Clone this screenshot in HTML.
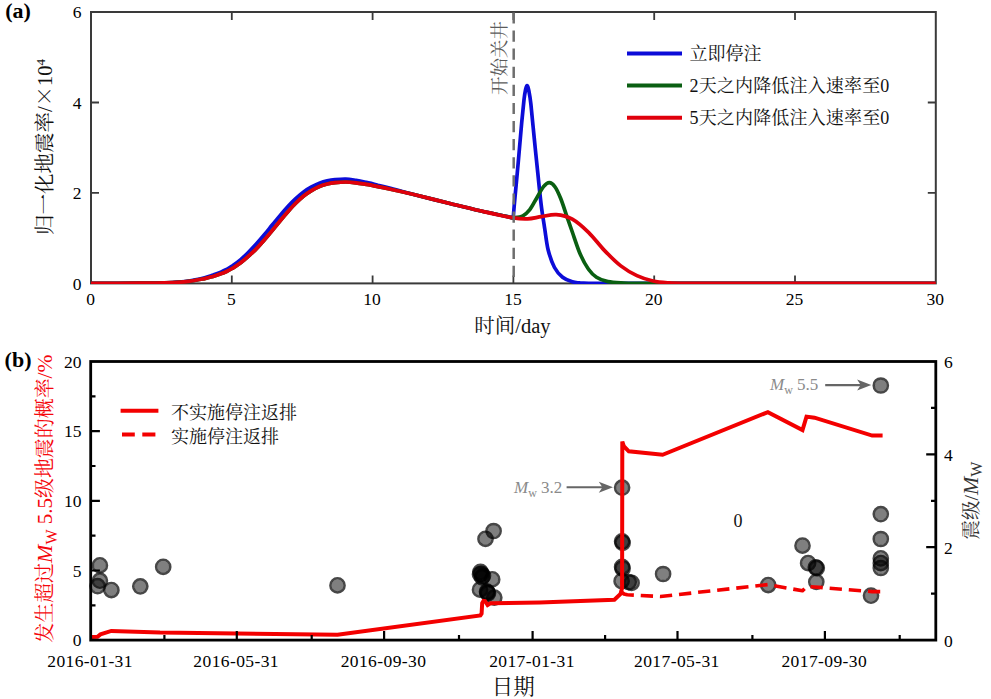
<!DOCTYPE html>
<html lang="zh"><head><meta charset="utf-8"><title>figure</title>
<style>
html,body{margin:0;padding:0;background:#fff;}
body{width:991px;height:699px;overflow:hidden;}
svg{display:block;}
text{font-family:'Liberation Serif','Noto Serif CJK SC',serif;}
.tk{font-size:17.5px;fill:#000;}
.dt{letter-spacing:0.4px;}
.lg{font-size:18px;fill:#111;}
.al{font-size:19.5px;}
</style></head><body>
<svg width="991" height="699" viewBox="0 0 991 699">
<rect width="991" height="699" fill="#fff"/>
<g id="panelA">
<rect x="91.0" y="12.0" width="844.8" height="271.4" fill="none" stroke="#3a3a3a" stroke-width="2"/>
<path d="M231.8 283.4 v-8 M231.8 12.0 v8 M372.6 283.4 v-8 M372.6 12.0 v8 M513.4 283.4 v-8 M513.4 12.0 v8 M654.2 283.4 v-8 M654.2 12.0 v8 M795.0 283.4 v-8 M795.0 12.0 v8 M91.0 192.9 h8 M935.8 192.9 h-8 M91.0 102.5 h8 M935.8 102.5 h-8" stroke="#3a3a3a" stroke-width="1.8" fill="none"/>
<clipPath id="clipA"><rect x="90.5" y="12.0" width="846.0" height="271.9"/></clipPath>
<g clip-path="url(#clipA)">
<path d="M91.0 283.4 C99.2 283.4 126.5 283.4 140.0 283.2 C153.6 283.0 164.2 282.8 172.3 282.5 C180.4 282.1 183.1 281.9 188.5 281.1 C193.9 280.3 200.5 278.7 204.6 277.7 C208.7 276.7 210.3 276.0 213.0 275.1 C215.7 274.1 218.6 273.0 220.8 272.1 C223.1 271.2 224.6 270.5 226.5 269.5 C228.4 268.4 230.1 267.4 232.5 265.8 C234.9 264.1 238.0 261.9 240.7 259.6 C243.4 257.3 245.9 254.8 248.5 252.2 C251.1 249.6 253.9 246.7 256.5 243.8 C259.1 240.9 261.7 237.9 264.3 234.8 C266.9 231.7 269.6 228.2 272.2 225.0 C274.8 221.8 277.4 218.7 280.0 215.6 C282.6 212.5 285.3 209.3 287.9 206.5 C290.5 203.7 293.1 201.1 295.7 198.7 C298.3 196.3 301.0 193.9 303.6 192.0 C306.2 190.1 308.9 188.4 311.5 187.0 C314.1 185.6 316.8 184.3 319.4 183.3 C322.0 182.3 324.6 181.5 327.2 180.9 C329.8 180.3 332.0 179.9 335.1 179.6 C338.2 179.3 342.2 178.9 345.7 179.0 C349.2 179.2 352.6 179.8 356.0 180.3 C359.4 180.9 362.6 181.6 366.3 182.4 C370.0 183.2 374.0 184.2 378.0 185.2 C382.0 186.1 384.4 186.7 390.5 188.3 C396.6 189.9 404.9 192.2 414.8 194.7 C424.7 197.2 439.0 200.8 449.9 203.5 C460.8 206.2 469.4 208.4 480.0 210.8 C490.6 213.2 507.7 216.7 513.2 217.9 L513.2 217.9 C513.5 214.6 514.0 207.6 514.9 198.2 C515.8 188.8 517.2 174.2 518.3 161.6 C519.4 149.0 520.8 132.9 521.7 122.6 C522.7 112.3 523.4 105.3 524.0 99.8 C524.6 94.3 525.1 91.9 525.6 89.5 C526.1 87.1 526.5 85.6 527.0 85.6 C527.5 85.6 528.0 86.4 528.6 89.5 C529.2 92.6 530.0 96.1 530.9 104.3 C531.8 112.5 533.1 127.2 534.3 138.7 C535.4 150.1 536.6 161.9 537.8 173.0 C538.9 184.1 540.1 195.8 541.2 205.0 C542.3 214.2 543.5 220.5 544.6 228.0 C545.8 235.5 546.5 243.2 548.1 249.8 C549.8 256.4 552.1 262.9 554.5 267.5 C556.9 272.1 559.6 274.8 562.6 277.2 C565.6 279.6 569.4 280.9 572.3 281.8 C575.2 282.8 577.3 282.6 580.0 282.9 C582.7 283.1 585.2 283.2 588.5 283.3 C591.8 283.4 598.1 283.4 600.0 283.4 L935.8 283.4" stroke="#0c0cd8" stroke-width="3.7" fill="none" stroke-linejoin="round"/>
<path d="M91.0 283.4 C99.2 283.4 126.5 283.3 140.0 283.2 C153.6 283.1 164.2 282.8 172.3 282.5 C180.4 282.2 183.1 282.0 188.5 281.4 C193.9 280.8 200.5 279.4 204.6 278.6 C208.7 277.8 210.3 277.2 213.0 276.4 C215.7 275.6 218.6 274.6 220.8 273.8 C223.1 273.0 224.6 272.4 226.5 271.5 C228.4 270.6 230.1 269.8 232.5 268.3 C234.9 266.9 238.0 264.8 240.7 262.8 C243.4 260.8 245.9 258.6 248.5 256.2 C251.1 253.8 253.9 251.3 256.5 248.6 C259.1 245.9 261.7 243.0 264.3 240.0 C266.9 237.0 269.6 233.8 272.2 230.6 C274.8 227.4 277.4 224.2 280.0 221.0 C282.6 217.8 285.3 214.6 287.9 211.7 C290.5 208.8 293.1 205.9 295.7 203.3 C298.3 200.7 301.0 198.1 303.6 196.0 C306.2 193.9 308.9 192.2 311.5 190.6 C314.1 189.0 316.8 187.6 319.4 186.5 C322.0 185.4 324.6 184.7 327.2 184.0 C329.8 183.3 332.0 182.9 335.1 182.6 C338.2 182.3 342.2 182.0 345.7 182.0 C349.2 182.0 352.6 182.4 356.0 182.8 C359.4 183.2 362.6 183.8 366.3 184.4 C370.0 185.0 374.0 185.8 378.0 186.6 C382.0 187.4 384.4 187.8 390.5 189.2 C396.6 190.5 404.9 192.3 414.8 194.7 C424.7 197.1 439.0 200.8 449.9 203.5 C460.8 206.2 469.4 208.4 480.0 210.8 C490.6 213.2 507.7 216.7 513.2 217.9 L513.2 217.9 C514.8 217.6 520.1 217.2 522.9 215.8 C525.7 214.4 527.5 212.5 529.8 209.6 C532.1 206.7 534.3 202.0 536.6 198.2 C538.9 194.4 541.4 189.3 543.5 186.7 C545.6 184.1 547.4 182.6 549.3 182.6 C551.2 182.6 553.0 184.0 554.9 186.7 C556.8 189.3 558.8 193.8 560.7 198.5 C562.6 203.2 564.5 209.4 566.4 215.0 C568.3 220.6 570.0 225.4 572.3 232.0 C574.6 238.6 577.7 248.4 580.4 254.6 C583.1 260.8 585.8 265.4 588.5 269.2 C591.2 273.0 593.3 275.1 596.5 277.2 C599.7 279.3 603.3 280.6 607.9 281.6 C612.5 282.6 618.6 282.7 624.0 283.0 C629.4 283.3 635.2 283.2 640.0 283.3 C644.8 283.4 650.8 283.4 653.0 283.4 L935.8 283.4" stroke="#0a5f12" stroke-width="3.7" fill="none" stroke-linejoin="round"/>
<path d="M91.0 283.4 C99.2 283.4 126.5 283.3 140.0 283.2 C153.6 283.1 164.2 282.8 172.3 282.5 C180.4 282.2 183.1 282.0 188.5 281.4 C193.9 280.8 200.5 279.4 204.6 278.6 C208.7 277.8 210.3 277.2 213.0 276.4 C215.7 275.6 218.6 274.6 220.8 273.8 C223.1 273.0 224.6 272.4 226.5 271.5 C228.4 270.6 230.1 269.8 232.5 268.3 C234.9 266.9 238.0 264.8 240.7 262.8 C243.4 260.8 245.9 258.6 248.5 256.2 C251.1 253.8 253.9 251.3 256.5 248.6 C259.1 245.9 261.7 243.0 264.3 240.0 C266.9 237.0 269.6 233.8 272.2 230.6 C274.8 227.4 277.4 224.2 280.0 221.0 C282.6 217.8 285.3 214.6 287.9 211.7 C290.5 208.8 293.1 205.9 295.7 203.3 C298.3 200.7 301.0 198.1 303.6 196.0 C306.2 193.9 308.9 192.2 311.5 190.6 C314.1 189.0 316.8 187.6 319.4 186.5 C322.0 185.4 324.6 184.7 327.2 184.0 C329.8 183.3 332.0 182.9 335.1 182.6 C338.2 182.3 342.2 182.0 345.7 182.0 C349.2 182.0 352.6 182.4 356.0 182.8 C359.4 183.2 362.6 183.8 366.3 184.4 C370.0 185.0 374.0 185.8 378.0 186.6 C382.0 187.4 384.4 187.8 390.5 189.2 C396.6 190.5 404.9 192.3 414.8 194.7 C424.7 197.1 439.0 200.8 449.9 203.5 C460.8 206.2 469.4 208.4 480.0 210.8 C490.6 213.2 505.3 216.6 513.2 217.9 C521.1 219.2 522.8 219.1 527.5 218.9 C532.2 218.7 536.6 217.4 541.4 216.7 C546.2 216.0 551.1 214.2 556.2 214.6 C561.4 215.0 566.9 216.1 572.3 219.1 C577.7 222.1 583.1 227.1 588.5 232.3 C593.9 237.6 599.2 245.0 604.6 250.6 C610.0 256.2 615.4 261.7 620.8 265.9 C626.2 270.1 631.5 273.1 636.9 275.6 C642.3 278.1 647.7 279.8 653.1 281.0 C658.5 282.2 663.9 282.5 669.2 282.9 C674.5 283.3 679.9 283.2 685.0 283.3 C690.1 283.4 697.5 283.4 700.0 283.4 L935.8 283.4" stroke="#e0000c" stroke-width="3.7" fill="none" stroke-linejoin="round"/>
</g>
<path d="M513.7 12.0 V283.4" stroke="#6e6e6e" stroke-width="2.5" stroke-dasharray="11.2 6.9" stroke-dashoffset="-0.4" fill="none"/>
<text class="tk" x="90.5" y="305.4" text-anchor="middle">0</text>
<text class="tk" x="231.3" y="305.4" text-anchor="middle">5</text>
<text class="tk" x="372.1" y="305.4" text-anchor="middle">10</text>
<text class="tk" x="512.9" y="305.4" text-anchor="middle">15</text>
<text class="tk" x="653.7" y="305.4" text-anchor="middle">20</text>
<text class="tk" x="794.5" y="305.4" text-anchor="middle">25</text>
<text class="tk" x="935.3" y="305.4" text-anchor="middle">30</text>
<text class="tk" x="81.5" y="289.6" text-anchor="end">0</text>
<text class="tk" x="81.5" y="199.1" text-anchor="end">2</text>
<text class="tk" x="81.5" y="108.7" text-anchor="end">4</text>
<text class="tk" x="81.5" y="18.2" text-anchor="end">6</text>
<text x="512.4" y="333" text-anchor="middle" fill="#111" font-size="20.5">时间/day</text>
<text transform="translate(52,147) rotate(-90)" text-anchor="middle" fill="#111" font-size="20.5">归一化地震率/<tspan font-family="'Noto Serif CJK SC',serif">×</tspan>10<tspan font-size="13" dy="-7.5">4</tspan></text>
<text transform="translate(506.3,58) rotate(-90)" text-anchor="middle" font-size="18.5" fill="#5c5c5c">开始关井</text>
<text transform="translate(5.2,17.6) scale(1.1,1)" font-size="20" font-weight="bold" fill="#000">(a)</text>
<path d="M627 53.4 H682" stroke="#0c0cd8" stroke-width="4" fill="none"/>
<text class="lg" x="689.5" y="59.6">立即停注</text>
<path d="M627 85.5 H682" stroke="#0a5f12" stroke-width="4" fill="none"/>
<text class="lg" x="689.5" y="91.7" letter-spacing="0.17">2天之内降低注入速率至0</text>
<path d="M627 117.8 H682" stroke="#e0000c" stroke-width="4" fill="none"/>
<text class="lg" x="689.5" y="124.0" letter-spacing="0.17">5天之内降低注入速率至0</text>
</g>
<g id="panelB">
<circle cx="99.9" cy="565.4" r="6.0" fill="#000" fill-opacity="0.5"/><circle cx="99.9" cy="565.4" r="7.1" fill="none" stroke="#000" stroke-opacity="0.72" stroke-width="2.5"/>
<circle cx="99.9" cy="580.6" r="6.0" fill="#000" fill-opacity="0.5"/><circle cx="99.9" cy="580.6" r="7.1" fill="none" stroke="#000" stroke-opacity="0.72" stroke-width="2.5"/>
<circle cx="97.6" cy="586.1" r="6.0" fill="#000" fill-opacity="0.5"/><circle cx="97.6" cy="586.1" r="7.1" fill="none" stroke="#000" stroke-opacity="0.72" stroke-width="2.5"/>
<circle cx="111.4" cy="590.2" r="6.0" fill="#000" fill-opacity="0.5"/><circle cx="111.4" cy="590.2" r="7.1" fill="none" stroke="#000" stroke-opacity="0.72" stroke-width="2.5"/>
<circle cx="140.3" cy="586.3" r="6.0" fill="#000" fill-opacity="0.5"/><circle cx="140.3" cy="586.3" r="7.1" fill="none" stroke="#000" stroke-opacity="0.72" stroke-width="2.5"/>
<circle cx="163.2" cy="566.9" r="6.0" fill="#000" fill-opacity="0.5"/><circle cx="163.2" cy="566.9" r="7.1" fill="none" stroke="#000" stroke-opacity="0.72" stroke-width="2.5"/>
<circle cx="337.5" cy="585.4" r="6.0" fill="#000" fill-opacity="0.5"/><circle cx="337.5" cy="585.4" r="7.1" fill="none" stroke="#000" stroke-opacity="0.72" stroke-width="2.5"/>
<circle cx="493.6" cy="531.0" r="6.0" fill="#000" fill-opacity="0.5"/><circle cx="493.6" cy="531.0" r="7.1" fill="none" stroke="#000" stroke-opacity="0.72" stroke-width="2.5"/>
<circle cx="485.5" cy="538.9" r="6.0" fill="#000" fill-opacity="0.5"/><circle cx="485.5" cy="538.9" r="7.1" fill="none" stroke="#000" stroke-opacity="0.72" stroke-width="2.5"/>
<circle cx="480.5" cy="571.8" r="6.0" fill="#000" fill-opacity="0.5"/><circle cx="480.5" cy="571.8" r="7.1" fill="none" stroke="#000" stroke-opacity="0.72" stroke-width="2.5"/>
<circle cx="481.5" cy="573.8" r="6.0" fill="#000" fill-opacity="0.5"/><circle cx="481.5" cy="573.8" r="7.1" fill="none" stroke="#000" stroke-opacity="0.72" stroke-width="2.5"/>
<circle cx="483.0" cy="575.8" r="6.0" fill="#000" fill-opacity="0.5"/><circle cx="483.0" cy="575.8" r="7.1" fill="none" stroke="#000" stroke-opacity="0.72" stroke-width="2.5"/>
<circle cx="482.0" cy="577.3" r="6.0" fill="#000" fill-opacity="0.5"/><circle cx="482.0" cy="577.3" r="7.1" fill="none" stroke="#000" stroke-opacity="0.72" stroke-width="2.5"/>
<circle cx="480.0" cy="574.3" r="6.0" fill="#000" fill-opacity="0.5"/><circle cx="480.0" cy="574.3" r="7.1" fill="none" stroke="#000" stroke-opacity="0.72" stroke-width="2.5"/>
<circle cx="492.2" cy="579.4" r="6.0" fill="#000" fill-opacity="0.5"/><circle cx="492.2" cy="579.4" r="7.1" fill="none" stroke="#000" stroke-opacity="0.72" stroke-width="2.5"/>
<circle cx="480.0" cy="589.7" r="6.0" fill="#000" fill-opacity="0.5"/><circle cx="480.0" cy="589.7" r="7.1" fill="none" stroke="#000" stroke-opacity="0.72" stroke-width="2.5"/>
<circle cx="487.0" cy="591.6" r="6.0" fill="#000" fill-opacity="0.5"/><circle cx="487.0" cy="591.6" r="7.1" fill="none" stroke="#000" stroke-opacity="0.72" stroke-width="2.5"/>
<circle cx="488.0" cy="593.3" r="6.0" fill="#000" fill-opacity="0.5"/><circle cx="488.0" cy="593.3" r="7.1" fill="none" stroke="#000" stroke-opacity="0.72" stroke-width="2.5"/>
<circle cx="487.4" cy="592.5" r="6.0" fill="#000" fill-opacity="0.5"/><circle cx="487.4" cy="592.5" r="7.1" fill="none" stroke="#000" stroke-opacity="0.72" stroke-width="2.5"/>
<circle cx="494.3" cy="597.6" r="6.0" fill="#000" fill-opacity="0.5"/><circle cx="494.3" cy="597.6" r="7.1" fill="none" stroke="#000" stroke-opacity="0.72" stroke-width="2.5"/>
<circle cx="622.1" cy="487.6" r="6.0" fill="#000" fill-opacity="0.5"/><circle cx="622.1" cy="487.6" r="7.1" fill="none" stroke="#000" stroke-opacity="0.72" stroke-width="2.5"/>
<circle cx="622.1" cy="541.3" r="6.0" fill="#000" fill-opacity="0.5"/><circle cx="622.1" cy="541.3" r="7.1" fill="none" stroke="#000" stroke-opacity="0.72" stroke-width="2.5"/>
<circle cx="622.6" cy="542.9" r="6.0" fill="#000" fill-opacity="0.5"/><circle cx="622.6" cy="542.9" r="7.1" fill="none" stroke="#000" stroke-opacity="0.72" stroke-width="2.5"/>
<circle cx="622.1" cy="566.9" r="6.0" fill="#000" fill-opacity="0.5"/><circle cx="622.1" cy="566.9" r="7.1" fill="none" stroke="#000" stroke-opacity="0.72" stroke-width="2.5"/>
<circle cx="622.6" cy="568.5" r="6.0" fill="#000" fill-opacity="0.5"/><circle cx="622.6" cy="568.5" r="7.1" fill="none" stroke="#000" stroke-opacity="0.72" stroke-width="2.5"/>
<circle cx="621.6" cy="581.2" r="6.0" fill="#000" fill-opacity="0.5"/><circle cx="621.6" cy="581.2" r="7.1" fill="none" stroke="#000" stroke-opacity="0.72" stroke-width="2.5"/>
<circle cx="628.7" cy="582.1" r="6.0" fill="#000" fill-opacity="0.5"/><circle cx="628.7" cy="582.1" r="7.1" fill="none" stroke="#000" stroke-opacity="0.72" stroke-width="2.5"/>
<circle cx="631.6" cy="582.9" r="6.0" fill="#000" fill-opacity="0.5"/><circle cx="631.6" cy="582.9" r="7.1" fill="none" stroke="#000" stroke-opacity="0.72" stroke-width="2.5"/>
<circle cx="663.1" cy="574.0" r="6.0" fill="#000" fill-opacity="0.5"/><circle cx="663.1" cy="574.0" r="7.1" fill="none" stroke="#000" stroke-opacity="0.72" stroke-width="2.5"/>
<circle cx="768.2" cy="585.2" r="6.0" fill="#000" fill-opacity="0.5"/><circle cx="768.2" cy="585.2" r="7.1" fill="none" stroke="#000" stroke-opacity="0.72" stroke-width="2.5"/>
<circle cx="802.5" cy="545.7" r="6.0" fill="#000" fill-opacity="0.5"/><circle cx="802.5" cy="545.7" r="7.1" fill="none" stroke="#000" stroke-opacity="0.72" stroke-width="2.5"/>
<circle cx="808.1" cy="563.2" r="6.0" fill="#000" fill-opacity="0.5"/><circle cx="808.1" cy="563.2" r="7.1" fill="none" stroke="#000" stroke-opacity="0.72" stroke-width="2.5"/>
<circle cx="815.8" cy="567.3" r="6.0" fill="#000" fill-opacity="0.5"/><circle cx="815.8" cy="567.3" r="7.1" fill="none" stroke="#000" stroke-opacity="0.72" stroke-width="2.5"/>
<circle cx="816.8" cy="568.1" r="6.0" fill="#000" fill-opacity="0.5"/><circle cx="816.8" cy="568.1" r="7.1" fill="none" stroke="#000" stroke-opacity="0.72" stroke-width="2.5"/>
<circle cx="816.3" cy="581.8" r="6.0" fill="#000" fill-opacity="0.5"/><circle cx="816.3" cy="581.8" r="7.1" fill="none" stroke="#000" stroke-opacity="0.72" stroke-width="2.5"/>
<circle cx="880.8" cy="385.5" r="6.0" fill="#000" fill-opacity="0.5"/><circle cx="880.8" cy="385.5" r="7.1" fill="none" stroke="#000" stroke-opacity="0.72" stroke-width="2.5"/>
<circle cx="880.8" cy="514.1" r="6.0" fill="#000" fill-opacity="0.5"/><circle cx="880.8" cy="514.1" r="7.1" fill="none" stroke="#000" stroke-opacity="0.72" stroke-width="2.5"/>
<circle cx="880.8" cy="539.0" r="6.0" fill="#000" fill-opacity="0.5"/><circle cx="880.8" cy="539.0" r="7.1" fill="none" stroke="#000" stroke-opacity="0.72" stroke-width="2.5"/>
<circle cx="880.8" cy="558.4" r="6.0" fill="#000" fill-opacity="0.5"/><circle cx="880.8" cy="558.4" r="7.1" fill="none" stroke="#000" stroke-opacity="0.72" stroke-width="2.5"/>
<circle cx="880.8" cy="563.2" r="6.0" fill="#000" fill-opacity="0.5"/><circle cx="880.8" cy="563.2" r="7.1" fill="none" stroke="#000" stroke-opacity="0.72" stroke-width="2.5"/>
<circle cx="880.8" cy="568.0" r="6.0" fill="#000" fill-opacity="0.5"/><circle cx="880.8" cy="568.0" r="7.1" fill="none" stroke="#000" stroke-opacity="0.72" stroke-width="2.5"/>
<circle cx="871.0" cy="595.6" r="6.0" fill="#000" fill-opacity="0.5"/><circle cx="871.0" cy="595.6" r="7.1" fill="none" stroke="#000" stroke-opacity="0.72" stroke-width="2.5"/>
<path d="M622.2 592.5 L624.0 594.0 L627.3 594.8 L660.5 596.5 L767.9 584.6 L802.5 590.8 L807.0 586.4 L814.5 587.0 L872.2 591.6 L881.5 591.6" stroke="#f30000" stroke-width="3.6" stroke-dasharray="12.3 6.9" stroke-dashoffset="0" fill="none" stroke-linejoin="round"/>
<path d="M91.5 636.9 L97.5 636.8 L100.5 634.4 L111.3 630.9 L160.0 632.6 L337.5 634.7 L480.4 615.4 L481.6 613.5 L482.2 603.0 L483.5 600.8 L485.0 601.0 L487.6 605.0 L490.5 603.2 L540.0 602.4 L560.0 601.8 L614.4 599.8 L620.5 594.0 L622.1 588.0 L622.3 441.6 L623.8 446.2 L628.8 451.3 L662.6 454.8 L767.9 412.1 L802.5 430.0 L806.5 416.6 L814.5 417.7 L872.2 435.6 L882.6 435.6" stroke="#f30000" stroke-width="4" fill="none" stroke-linejoin="miter" stroke-miterlimit="2.2"/>
<rect x="90.7" y="361.5" width="845.1" height="278.6" fill="none" stroke="#000" stroke-width="2.8"/>
<path d="M236.8 640.1 v-9 M384.1 640.1 v-9 M532.6 640.1 v-9 M677.5 640.1 v-9 M824.9 640.1 v-9 M164.4 640.1 v-5 M311.7 640.1 v-5 M459.0 640.1 v-5 M605.1 640.1 v-5 M752.4 640.1 v-5 M899.7 640.1 v-5 M90.7 570.5 h9.2 M90.7 500.8 h9.2 M90.7 431.2 h9.2 M90.7 605.3 h4.8 M90.7 535.6 h4.8 M90.7 466.0 h4.8 M90.7 396.3 h4.8 M935.8 547.2 h-9.6 M935.8 454.4 h-9.6 M935.8 593.7 h-4.8 M935.8 500.8 h-4.8 M935.8 407.9 h-4.8" stroke="#000" stroke-width="2.2" fill="none"/>
<text class="tk dt" x="90.1" y="667" text-anchor="middle">2016-01-31</text>
<text class="tk dt" x="236.2" y="667" text-anchor="middle">2016-05-31</text>
<text class="tk dt" x="383.5" y="667" text-anchor="middle">2016-09-30</text>
<text class="tk dt" x="532.0" y="667" text-anchor="middle">2017-01-31</text>
<text class="tk dt" x="676.9" y="667" text-anchor="middle">2017-05-31</text>
<text class="tk dt" x="824.3" y="667" text-anchor="middle">2017-09-30</text>
<text class="tk" x="81.5" y="646.3" text-anchor="end">0</text>
<text class="tk" x="81.5" y="576.7" text-anchor="end">5</text>
<text class="tk" x="81.5" y="507.0" text-anchor="end">10</text>
<text class="tk" x="81.5" y="437.4" text-anchor="end">15</text>
<text class="tk" x="81.5" y="367.7" text-anchor="end">20</text>
<text class="tk" x="944" y="646.9">0</text>
<text class="tk" x="944" y="554.0">2</text>
<text class="tk" x="944" y="461.2">4</text>
<text class="tk" x="944" y="368.3">6</text>
<text x="513.2" y="694.4" text-anchor="middle" fill="#111" font-size="21.5">日期</text>
<text transform="translate(52.2,498.6) rotate(-90)" text-anchor="middle" fill="#f5060c" font-size="19.95">发生超过<tspan font-style="italic" font-size="22">M</tspan><tspan font-size="16" dy="4.5">W</tspan><tspan dy="-4.5" font-size="21"> 5.5</tspan>级地震的概率<tspan font-size="21.5">/%</tspan></text>
<text class="al" transform="translate(977.6,500.5) rotate(-90)" text-anchor="middle" fill="#333">震级/<tspan font-style="italic" font-size="22">M</tspan><tspan font-size="16" dy="4.5">W</tspan></text>
<text transform="translate(4.6,366.8) scale(1.1,1)" font-size="20" font-weight="bold" fill="#000">(b)</text>
<text x="738" y="527.2" text-anchor="middle" font-size="18" fill="#111">0</text>
<path d="M120.6 410.7 H158.4" stroke="#f30000" stroke-width="4.1" fill="none"/>
<path d="M122 434.5 H134.8 M142.3 434.5 H155.4" stroke="#f30000" stroke-width="4.1" fill="none"/>
<text class="lg" x="171" y="419">不实施停注返排</text>
<text class="lg" x="171" y="443.3">实施停注返排</text>
<text x="770.0" y="390.0" font-size="17" fill="#8a8a8a"><tspan font-style="italic">M</tspan><tspan font-size="12" dy="4.3">w</tspan><tspan dy="-4.3"> 5.5</tspan></text>
<path d="M825.2 385.1 H863.3" stroke="#666" stroke-width="2.1" fill="none"/>
<path d="M871.3 385.1 l-14.2 -5.5 l3.6 5.5 l-3.6 5.5 z" fill="#666"/>
<text x="514.0" y="492.5" font-size="17" fill="#8a8a8a"><tspan font-style="italic">M</tspan><tspan font-size="12" dy="4.3">w</tspan><tspan dy="-4.3"> 3.2</tspan></text>
<path d="M566.6 487.2 H605.0" stroke="#666" stroke-width="2.1" fill="none"/>
<path d="M613.0 487.2 l-14.2 -5.5 l3.6 5.5 l-3.6 5.5 z" fill="#666"/>
</g>
</svg></body></html>
